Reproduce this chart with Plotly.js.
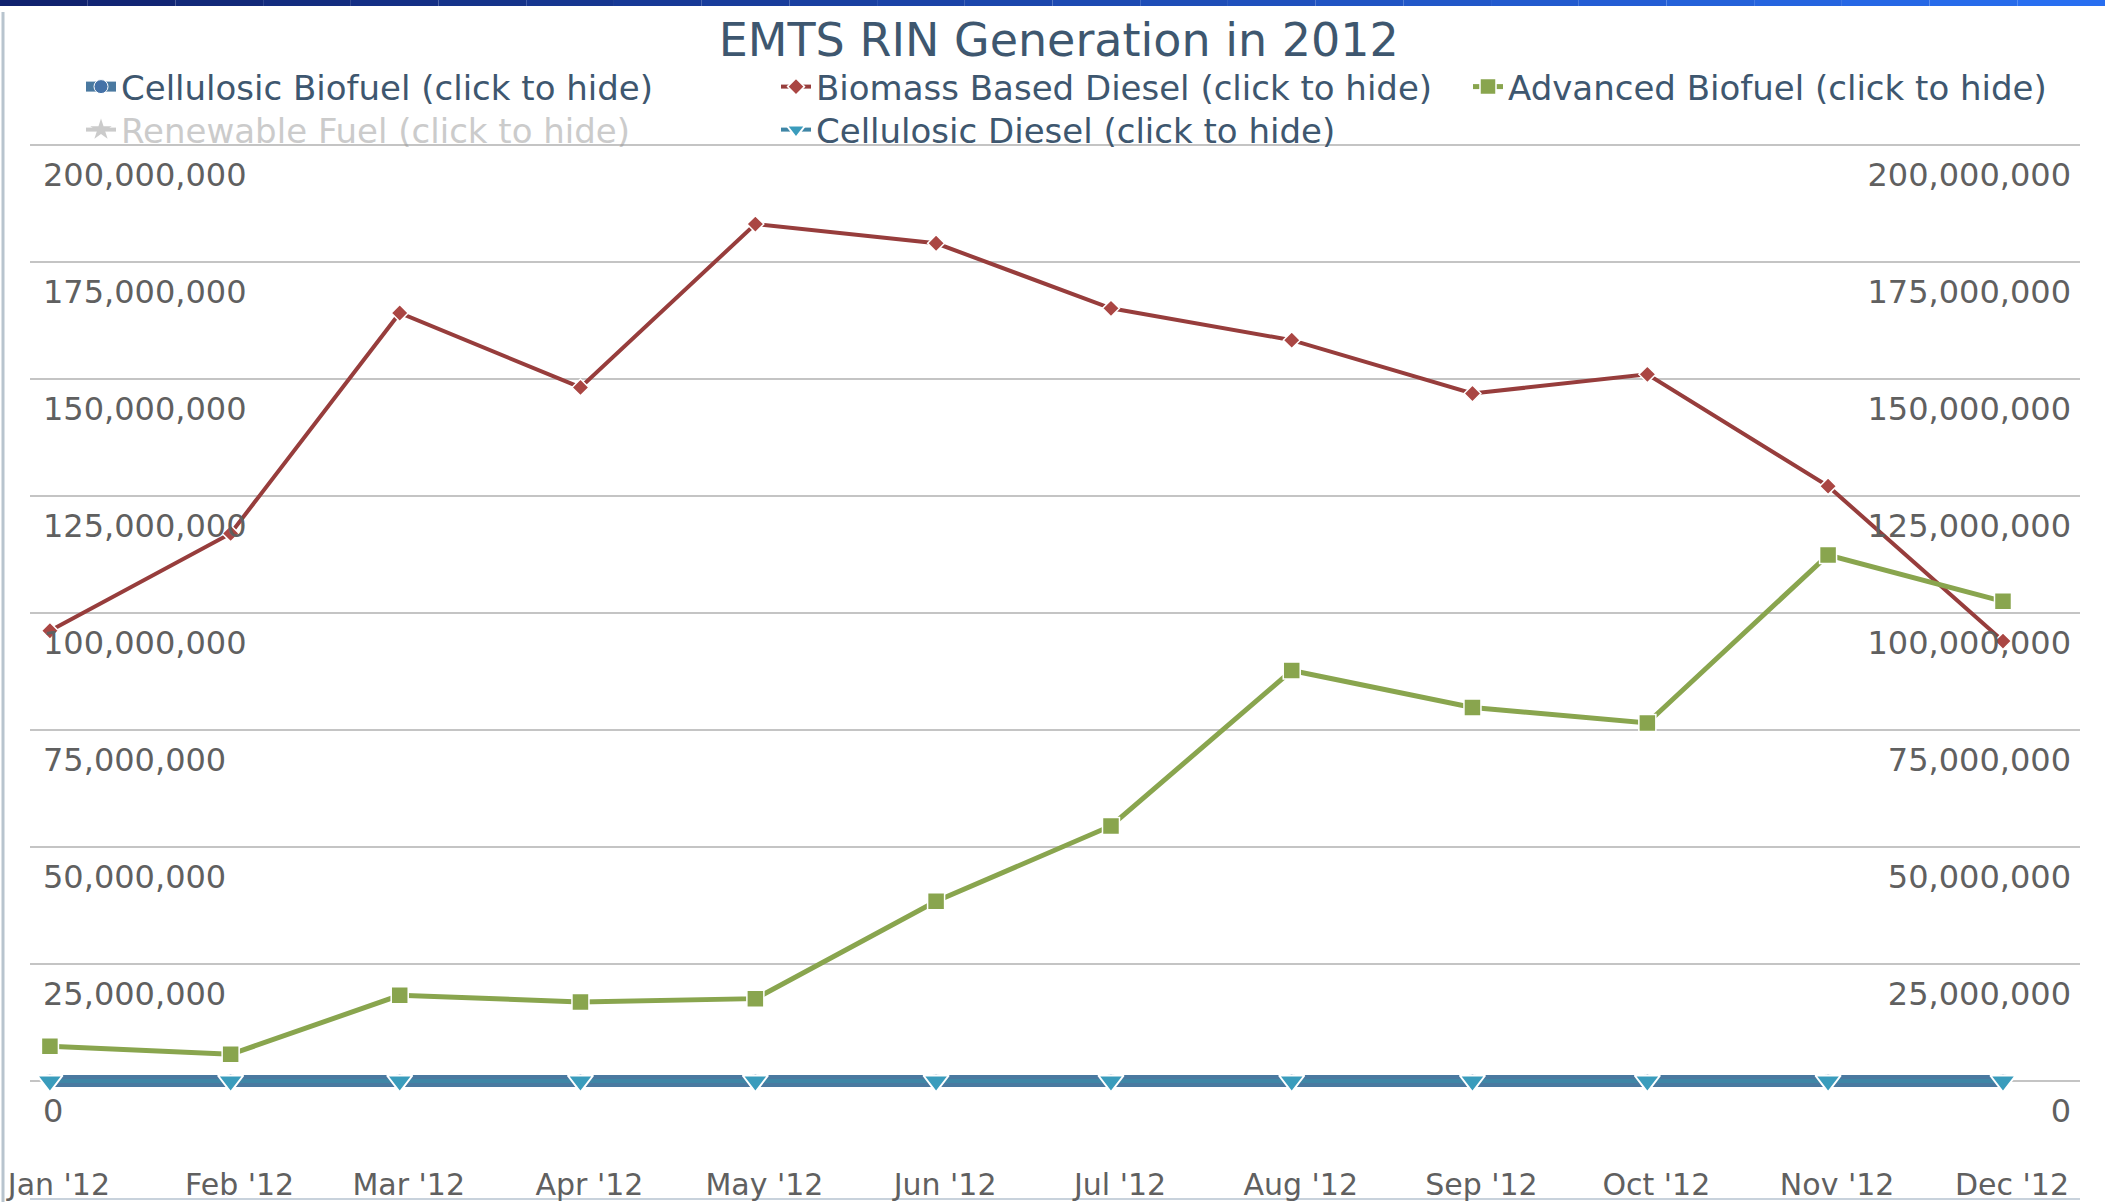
<!DOCTYPE html>
<html>
<head>
<meta charset="utf-8">
<script src="https://cdn.plot.ly/plotly-3.0.1.min.js"></script>
<style>html,body{margin:0;padding:0;background:#fff;}#chart{width:2105px;height:1202px;}</style>
</head>
<body>
<div id="chart"></div>
<script>
// ---- data ----
const months = ['2012-01-01','2012-02-01','2012-03-01','2012-04-01','2012-05-01','2012-06-01',
                '2012-07-01','2012-08-01','2012-09-01','2012-10-01','2012-11-01','2012-12-01'];
const monthLabels = ["Jan '12","Feb '12","Mar '12","Apr '12","May '12","Jun '12",
                     "Jul '12","Aug '12","Sep '12","Oct '12","Nov '12","Dec '12"];
const cellulosicBiofuel = [0,0,0,0,0,0,0,0,0,0,0,0];
const biomassBasedDiesel = [96200000,117000000,164100000,148200000,183100000,179000000,
                            165100000,158300000,146900000,151000000,127100000,94000000];
const advancedBiofuel = [7400000,5700000,18300000,16900000,17600000,38400000,
                         54500000,87700000,79800000,76500000,112400000,102500000];
const renewableFuel = [null,null,null,null,null,null,null,null,null,null,null,null]; // hidden series
const cellulosicDiesel = [0,0,0,0,0,0,0,0,0,0,0,0];
const yTickVals = [0,25000000,50000000,75000000,100000000,125000000,150000000,175000000,200000000];
const yTickText = ['0','25,000,000','50,000,000','75,000,000','100,000,000','125,000,000','150,000,000','175,000,000','200,000,000'];

const FONT = 'DejaVu Sans, Verdana, sans-serif';
const traces = [
  {name:'Cellulosic Biofuel (click to hide)', legend:'legend', x:months, y:cellulosicBiofuel, type:'scatter', mode:'lines+markers',
   line:{color:'#4A79A0', width:12}, marker:{symbol:'circle', size:14, color:'#4572A7', line:{color:'#fff', width:1}}},
  {name:'Biomass Based Diesel (click to hide)', legend:'legend2', x:months, y:biomassBasedDiesel, type:'scatter', mode:'lines+markers',
   line:{color:'#973D3C', width:4}, marker:{symbol:'diamond', size:13, color:'#AA4643', line:{color:'#fff', width:1.5}}},
  {name:'Advanced Biofuel (click to hide)', legend:'legend3', x:months, y:advancedBiofuel, type:'scatter', mode:'lines+markers',
   line:{color:'#89A54E', width:5}, marker:{symbol:'square', size:17, color:'#89A54E', line:{color:'#fff', width:1.5}}},
  {name:'<span style="color:#999">Renewable Fuel (click to hide)</span>', legend:'legend4', x:months, y:renewableFuel, type:'scatter', mode:'lines+markers',
   visible:'legendonly', line:{color:'#999', width:4}, marker:{symbol:'star', size:18, color:'#999'}},
  {name:'Cellulosic Diesel (click to hide)', legend:'legend5', x:months, y:cellulosicDiesel, type:'scatter', mode:'lines+markers', yaxis:'y2',
   line:{color:'#3F86A6', width:4}, marker:{symbol:'triangle-down', size:22, color:'#3A9CBC', line:{color:'#fff', width:2}}}
];

// top gradient bar as segments
const shapes = [];
const W = 2050, H = 1053, L = 30, T = 145;
const c0 = [16,34,110], c1 = [40,110,240];
const nSeg = 24;
for (let i = 0; i < nSeg; i++) {
  const f = i/(nSeg-1);
  const c = c0.map((v,k)=>Math.round(v+(c1[k]-v)*f));
  shapes.push({type:'rect', xref:'paper', yref:'paper', layer:'above',
    x0:(-L + 2105*i/nSeg)/W, x1:(-L + 2105*(i+1)/nSeg)/W,
    y0:1 + (T-6)/H, y1:1 + T/H, fillcolor:`rgb(${c[0]},${c[1]},${c[2]})`, line:{width:0}});
}
// left border of the chart container
shapes.push({type:'line', xref:'paper', yref:'paper', x0:(-L+3)/W, x1:(-L+3)/W, y0:-4/H, y1:1+(T-12)/H,
  line:{color:'#B8C4CE', width:3}});
// top gridline (200,000,000) at the upper edge of the plot area
shapes.push({type:'line', xref:'paper', yref:'paper', x0:0, x1:1, y0:1, y1:1, layer:'below',
  line:{color:'#C4C4C4', width:2}});

const legendBase = {orientation:'v', xref:'container', yref:'container', xanchor:'left', yanchor:'top',
  font:{family:FONT, size:34, color:'#3E576F'}, bgcolor:'rgba(0,0,0,0)', tracegroupgap:0, itemwidth:30, borderwidth:0};
const row1 = 1-58/1202, row2 = 1-101/1202;

const layout = {
  width:2105, height:1202,
  margin:{l:30, r:25, t:145, b:4, autoexpand:false},
  paper_bgcolor:'#fff', plot_bgcolor:'#fff',
  font:{family:FONT, color:'#606060'},
  title:{text:'EMTS RIN Generation in 2012', font:{family:FONT, size:46, color:'#3E576F'},
         xref:'container', yref:'container', x:0.503, xanchor:'center', y:1-40/1202, yanchor:'middle'},
  showlegend:true,
  legend:Object.assign({}, legendBase, {x:81/2105, y:row1}),
  legend2:Object.assign({}, legendBase, {x:776/2105, y:row1}),
  legend3:Object.assign({}, legendBase, {x:1468/2105, y:row1}),
  legend4:Object.assign({}, legendBase, {x:81/2105, y:row2}),
  legend5:Object.assign({}, legendBase, {x:776/2105, y:row2}),
  xaxis:{type:'date', range:['2011-12-28 14:00','2012-12-14 05:00'], tickvals:months, ticktext:monthLabels,
         ticklabelposition:'inside', ticklabeloverflow:'allow', ticklabelshift:9,
         tickfont:{family:FONT, size:30, color:'#606060'},
         showgrid:false, zeroline:false, showline:true, linecolor:'#C8D2DC', linewidth:2,
         ticks:'', fixedrange:true},
  yaxis:{range:[-25000000,200000000], tickvals:yTickVals, ticktext:yTickText, showgrid:true,
         gridcolor:'#C4C4C4', gridwidth:2, zeroline:false, showline:false,
         ticklabelposition:'inside', ticklabeloverflow:'allow', ticklabelstandoff:10, ticklabelshift:30,
         tickfont:{family:FONT, size:32, color:'#606060'}, fixedrange:true},
  yaxis2:{range:[-25000000,200000000], tickvals:yTickVals, ticktext:yTickText, overlaying:'y', side:'right',
          showgrid:false, zeroline:false, showline:false,
          ticklabelposition:'inside', ticklabeloverflow:'allow', ticklabelstandoff:6, ticklabelshift:30,
          tickfont:{family:FONT, size:32, color:'#606060'}, fixedrange:true},
  shapes:shapes,
  hovermode:false
};
Plotly.newPlot('chart', traces, layout, {displayModeBar:false, staticPlot:true});
</script>
</body>
</html>
